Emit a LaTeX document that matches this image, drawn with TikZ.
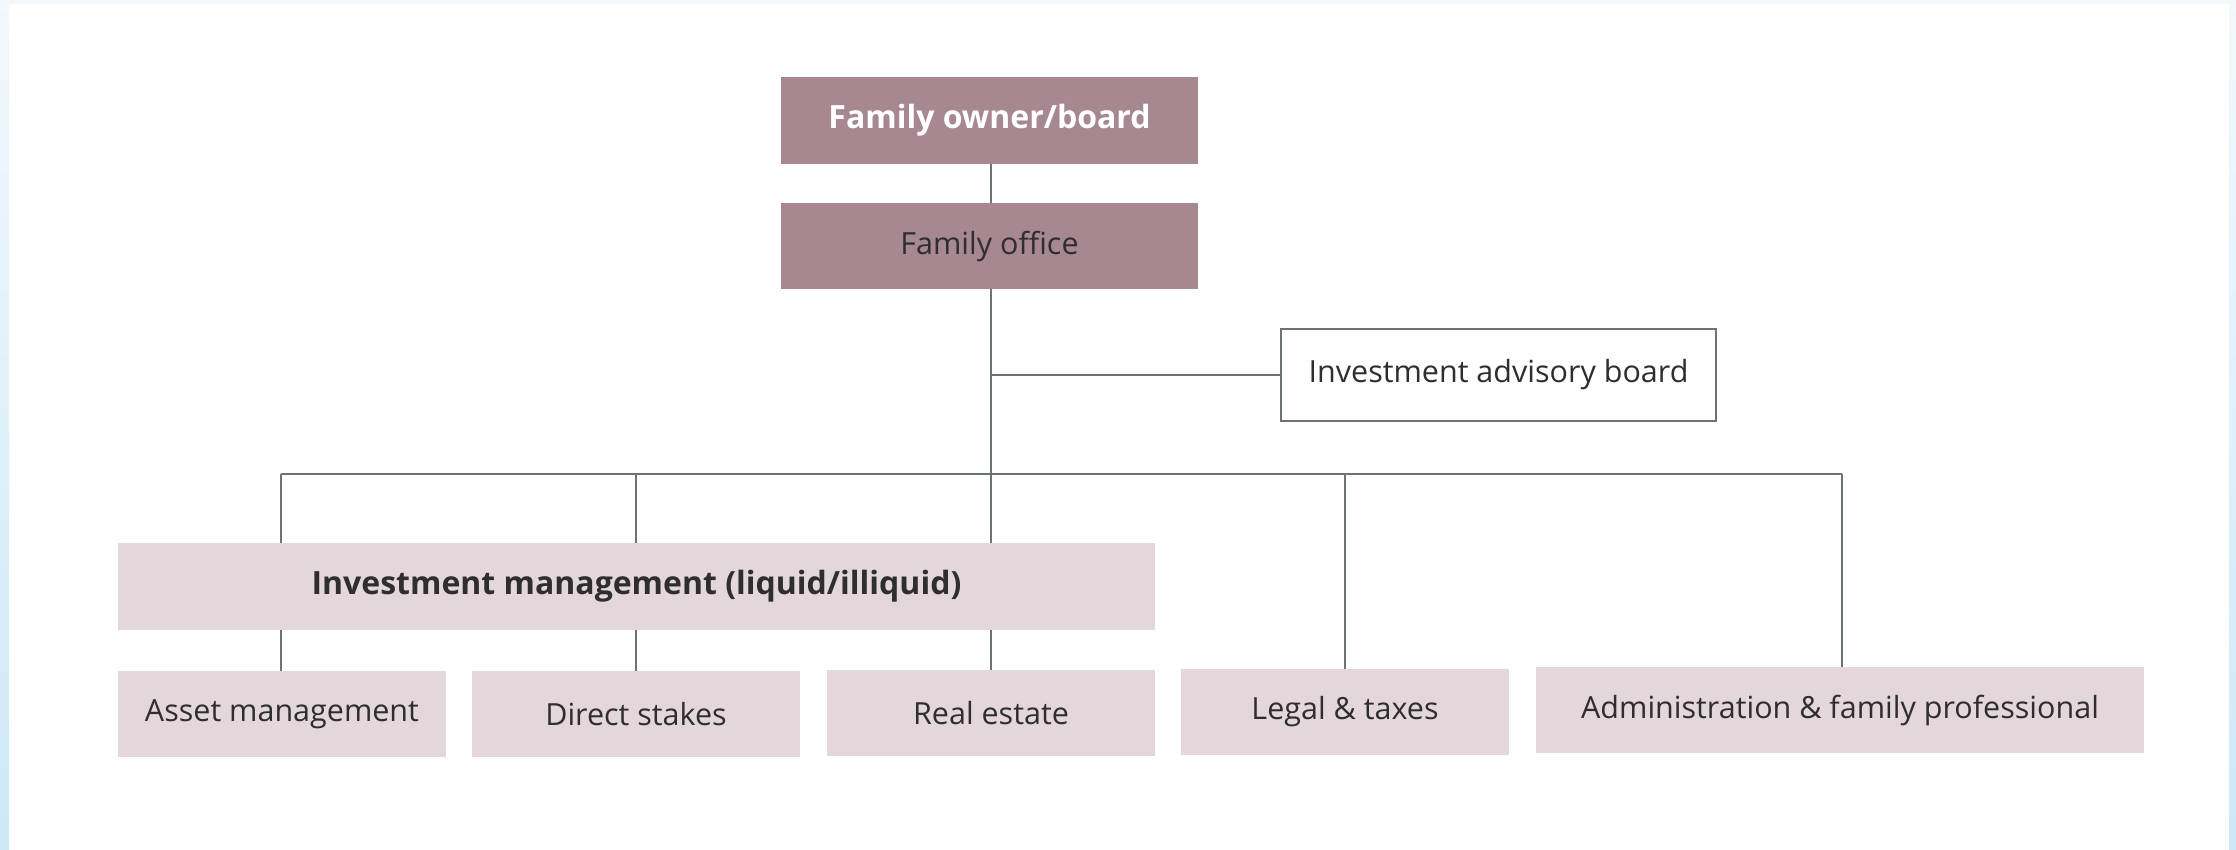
\documentclass[tikz,border=0pt]{standalone}
\usepackage{fontspec}
\setmainfont{Open Sans}
\definecolor{mauve}{HTML}{A78790}
\definecolor{blush}{HTML}{E4D7DC}
\definecolor{linegray}{HTML}{6E7474}
\definecolor{ink}{HTML}{2E2E30}
\definecolor{edgeblue}{HTML}{CDE8F6}
\definecolor{edgepale}{HTML}{F2F8FC}
\tikzset{
  unitbox/.style={rectangle, inner sep=0pt, outer sep=0pt, anchor=center,
    font=\fontsize{12.2pt}{14pt}\selectfont, text=ink},
  heavytext/.style={font=\fontsize{12.8pt}{14pt}\selectfont\bfseries},
  darkbox/.style={unitbox, fill=mauve},
  lightbox/.style={unitbox, fill=blush},
  openbox/.style={unitbox, fill=white, draw=linegray, line width=0.8pt},
  link/.style={draw=linegray, line width=0.8pt},
}
\begin{document}
\begin{tikzpicture}[x=0.4pt, y=-0.4pt]
  % page area and the pale blue side strips
  \fill[white] (0,0) rectangle (2236,849);
  \useasboundingbox (0,0) rectangle (2236,849);
  \shade[top color=edgepale, bottom color=edgeblue] (0,0) rectangle (9,849);
  \shade[top color=edgepale, bottom color=edgeblue] (2229,0) rectangle (2236,849);
  \fill[edgepale] (0,0) rectangle (2236,4);

  % boxes
  \node[darkbox, minimum width=166.8pt, minimum height=34.8pt, text=white, heavytext]
    (owner) at (989.5,120.5) {Family owner/board};
  \node[darkbox, minimum width=166.8pt, minimum height=34.4pt]
    (office) at (989.5,246) {Family office};
  \node[openbox, minimum width=174pt, minimum height=36.8pt]
    (advisory) at (1498.5,375) {Investment advisory board};
  \node[lightbox, minimum width=414.8pt, minimum height=34.8pt, heavytext]
    (invest) at (636.5,586.5) {Investment management (liquid/illiquid)};
  \node[lightbox, minimum width=131.2pt, minimum height=34.4pt]
    (asset) at (282,714) {Asset management};
  \node[lightbox, minimum width=131.2pt, minimum height=34.4pt]
    (direct) at (636,714) {Direct stakes};
  \node[lightbox, minimum width=131.2pt, minimum height=34.4pt]
    (realest) at (991,713) {Real estate};
  \node[lightbox, minimum width=131.2pt, minimum height=34.4pt]
    (legal) at (1345,712) {Legal \& taxes};
  \node[lightbox, minimum width=243.2pt, minimum height=34.4pt]
    (admin) at (1840,710) {Administration \& family professional};

  % horizontal bus line
  \coordinate (busL) at (281,474);
  \coordinate (busR) at (1842,474);
  \coordinate (trunk) at (991,474);

  % connectors
  \draw[link] (owner.south -| trunk) -- (office.north -| trunk);
  \draw[link] (office.south -| trunk) -- (invest.north -| trunk);
  \draw[link] (advisory.west -| trunk) -- (advisory.west);
  \draw[link] (busL) -- (busR);
  \draw[link] (busL) -- (invest.north -| busL);
  \draw[link] (direct.north |- busL) -- (direct.north |- invest.north);
  \draw[link] (legal.north |- busL) -- (legal.north);
  \draw[link] (busR) -- (admin.north -| busR);
  \draw[link] (invest.south -| busL) -- (asset.north -| busL);
  \draw[link] (direct.north |- invest.south) -- (direct.north);
  \draw[link] (invest.south -| trunk) -- (realest.north -| trunk);
\end{tikzpicture}
\end{document}
